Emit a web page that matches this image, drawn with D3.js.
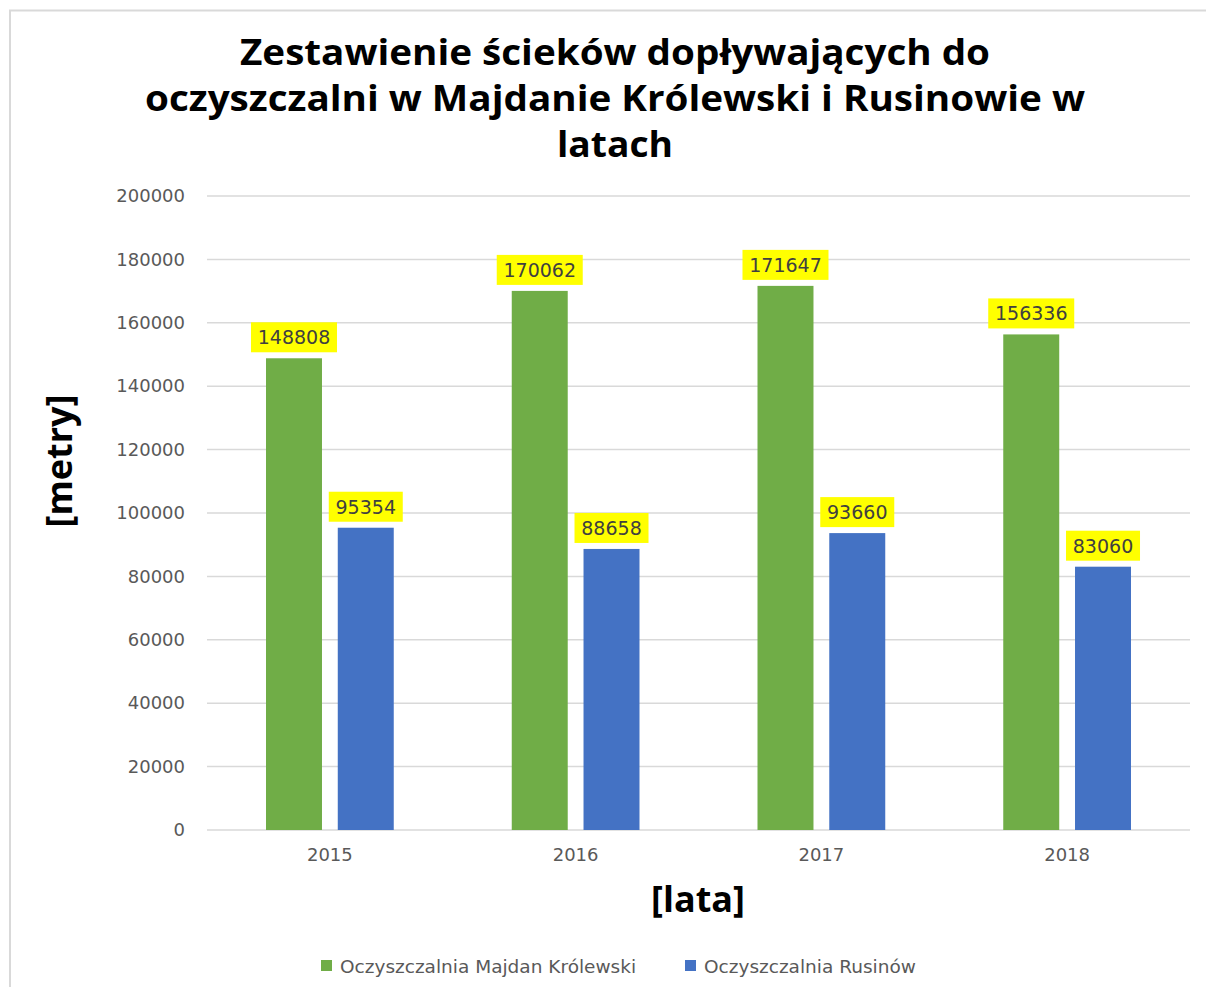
<!DOCTYPE html>
<html>
<head>
<meta charset="utf-8">
<script src="https://cdn.jsdelivr.net/npm/d3@7"></script>
<style>
  body { margin: 0; background: #fff; }
  svg text { font-family: "DejaVu Sans", "Open Sans", sans-serif; }
  svg text.big { font-family: "Open Sans", "Noto Sans", sans-serif; }
</style>
</head>
<body>
<div id="chart"></div>
<script>
// data
const years = ["2015", "2016", "2017", "2018"];
const majdan = [148808, 170062, 171647, 156336];
const rusinow = [95354, 88658, 93660, 83060];
const seriesNames = ["Oczyszczalnia Majdan Królewski", "Oczyszczalnia Rusinów"];
const seriesColors = ["#70ad47", "#4472c4"];
const yTicks = [0, 20000, 40000, 60000, 80000, 100000, 120000, 140000, 160000, 180000, 200000];
const titleLines = ["Zestawienie ścieków dopływających do", "oczyszczalni w Majdanie Królewski i Rusinowie w", "latach"];
const titleWidths = [750, 940, 116];

const W = 1206, H = 987;
const margin = { top: 196, right: 16, bottom: 157, left: 207 };
const width = W - margin.left - margin.right,
      height = H - margin.top - margin.bottom;

const svg = d3.select("#chart").append("svg")
    .attr("width", W)
    .attr("height", H);

// chart frame (only top and left edge visible)
svg.append("path")
    .attr("d", `M10,${H} L10,10.5 L${W},10.5`)
    .attr("fill", "none")
    .attr("stroke", "#d9d9d9")
    .attr("stroke-width", 2);

const g = svg.append("g").attr("transform", `translate(${margin.left},${margin.top})`);

const x = d3.scaleBand().domain(years).range([0, width]).paddingInner(0).paddingOuter(0);
const xs = d3.scaleBand().domain([0, 1]).range([59, x.bandwidth() - 59]).paddingInner(0.22);
const y = d3.scaleLinear().domain([0, 200000]).range([height, 0]);

// gridlines
g.append("g")
    .selectAll("line")
    .data(yTicks)
    .join("line")
    .attr("x1", 0).attr("x2", width)
    .attr("y1", d => y(d)).attr("y2", d => y(d))
    .attr("stroke", "#d9d9d9")
    .attr("stroke-width", 1.5);

// y axis labels
const yAxis = g.append("g")
    .call(d3.axisLeft(y).tickValues(yTicks).tickSize(0).tickPadding(22).tickFormat(d3.format("d")));
yAxis.select(".domain").remove();
yAxis.selectAll("text")
    .attr("fill", "#595959")
    .style("font-size", "18px");

// x axis labels
const xAxis = g.append("g")
    .attr("transform", `translate(0,${height})`)
    .call(d3.axisBottom(x).tickSize(0).tickPadding(18));
xAxis.select(".domain").remove();
xAxis.selectAll("text")
    .attr("fill", "#595959")
    .style("font-size", "18px");

// bars + labels
const rows = years.map((yr, i) => ({ year: yr, vals: [majdan[i], rusinow[i]] }));
const groups = g.selectAll(".grp")
    .data(rows)
    .join("g")
    .attr("class", "grp")
    .attr("transform", d => `translate(${x(d.year)},0)`);

const cells = groups.selectAll(".cell")
    .data(d => d.vals.map((v, k) => ({ v, k })))
    .join("g")
    .attr("class", "cell");

cells.append("rect")
    .attr("x", d => xs(d.k))
    .attr("y", d => y(d.v))
    .attr("width", xs.bandwidth())
    .attr("height", d => height - y(d.v))
    .attr("fill", d => seriesColors[d.k]);

cells.append("rect")
    .attr("x", d => xs(d.k) + xs.bandwidth() / 2 - (d.v >= 100000 ? 43 : 37))
    .attr("y", d => y(d.v) - 36)
    .attr("width", d => d.v >= 100000 ? 86 : 74)
    .attr("height", 30)
    .attr("fill", "#ffff00");

cells.append("text")
    .attr("x", d => xs(d.k) + xs.bandwidth() / 2)
    .attr("y", d => y(d.v) - 14)
    .attr("text-anchor", "middle")
    .attr("fill", "#404040")
    .style("font-size", "19px")
    .text(d => d.v);

// title
svg.append("g").selectAll("text")
    .data(titleLines)
    .join("text")
    .attr("class", "big")
    .attr("x", 615)
    .attr("y", (d, i) => 65 + i * 46)
    .attr("text-anchor", "middle")
    .attr("textLength", (d, i) => titleWidths[i])
    .attr("lengthAdjust", "spacingAndGlyphs")
    .style("font-size", "35px")
    .style("font-weight", "bold")
    .attr("fill", "#000")
    .text(d => d);

// axis titles
svg.append("text")
    .attr("class", "big")
    .attr("transform", `translate(72,${margin.top + height / 2 - 52}) rotate(-90)`)
    .attr("text-anchor", "middle")
    .style("font-size", "36px")
    .style("font-weight", "bold")
    .text("[metry]");

svg.append("text")
    .attr("class", "big")
    .attr("x", 698)
    .attr("y", 912)
    .attr("text-anchor", "middle")
    .style("font-size", "36px")
    .style("font-weight", "bold")
    .text("[lata]");

// legend
const legendX = [321, 685];
const legend = svg.append("g").selectAll("g")
    .data(seriesNames)
    .join("g")
    .attr("transform", (d, i) => `translate(${legendX[i]},966)`);
legend.append("rect")
    .attr("x", 0).attr("y", -6)
    .attr("width", 11).attr("height", 11)
    .attr("fill", (d, i) => seriesColors[i]);
legend.append("text")
    .attr("x", 19)
    .attr("y", 7)
    .attr("fill", "#595959")
    .style("font-size", "18.5px")
    .text(d => d);
</script>
</body>
</html>
